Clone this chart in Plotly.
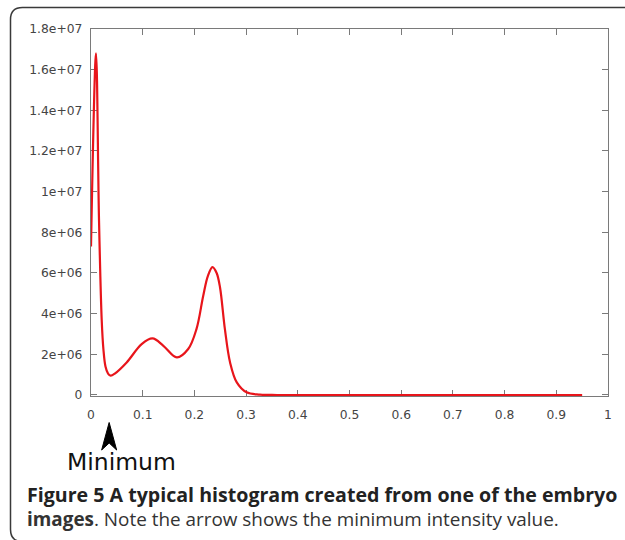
import plotly.graph_objects as go

# ---- data ----
intensity = [0.0, 0.0097, 0.0155, 0.0207, 0.024, 0.028, 0.033, 0.038, 0.046,
             0.069, 0.098, 0.119, 0.140, 0.166, 0.188, 0.204, 0.217, 0.226, 0.235,
             0.243, 0.2495, 0.259, 0.269, 0.282, 0.301, 0.327, 0.360, 0.420, 0.500,
             0.600, 0.700, 0.800, 0.900, 0.950]
counts = [7.3e6, 16.8e6, 8.6e6, 3.7e6, 2.25e6, 1.4e6, 1.05e6, 0.95e6, 1.05e6,
          1.6e6, 2.5e6, 2.78e6, 2.42e6, 1.85e6, 2.26e6, 3.24e6, 4.87e6, 5.85e6, 6.29e6,
          6.0e6, 5.3e6, 3.24e6, 1.6e6, 0.62e6, 0.13e6, 0.02e6, 0.0, 0.0, 0.0,
          0.0, 0.0, 0.0, 0.0, 0.0]
minimum_x = 0.038

x_ticks = [0, 0.1, 0.2, 0.3, 0.4, 0.5, 0.6, 0.7, 0.8, 0.9, 1]
x_tick_labels = ["0", "0.1", "0.2", "0.3", "0.4", "0.5", "0.6", "0.7", "0.8", "0.9", "1"]
y_ticks = [0, 2e6, 4e6, 6e6, 8e6, 1e7, 1.2e7, 1.4e7, 1.6e7, 1.8e7]
y_tick_labels = ["0", "2e+06", "4e+06", "6e+06", "8e+06", "1e+07",
                 "1.2e+07", "1.4e+07", "1.6e+07", "1.8e+07"]

caption_line1 = "<b>Figure 5 A typical histogram created from one of the embryo</b>"
caption_line2 = "<b>images</b>. Note the arrow shows the minimum intensity value."

# ---- layout geometry (pixels) ----
W, H = 625, 540
L, R, T, B = 91, 608, 29, 396


def px(xp):
    return (xp - L) / (R - L)


def py(yp):
    return (B - yp) / (B - T)


fig = go.Figure()
fig.add_trace(go.Scatter(
    x=intensity, y=counts, mode="lines",
    line=dict(color="#e8151b", width=2.2, shape="spline", smoothing=1.0),
    hoverinfo="skip", showlegend=False,
))

axis_common = dict(
    showgrid=False, zeroline=False, showline=True, linecolor="#7a7a7a", linewidth=1.3,
    mirror="ticks", ticks="inside", ticklen=6, tickcolor="#7a7a7a", tickwidth=1.3,
    tickfont=dict(family="DejaVu Sans", size=12.3, color="#444444"),
    layer="below traces",
)

fig.update_xaxes(range=[0, 1], tickvals=x_ticks, ticktext=x_tick_labels,
                 ticklabelstandoff=7, **axis_common)
fig.update_yaxes(range=[-5e4, 1.8e7], tickvals=y_ticks, ticktext=y_tick_labels,
                 ticklabelstandoff=5, **axis_common)

# outer rounded frame
x_r, x_l = px(W + 5), px(10.5)
x_lc = px(22.5)
y_t, y_tc = py(7.5), py(19.5)
y_b, y_bc = py(541.5), py(529.5)
frame = (f"M {x_r},{y_t} L {x_lc},{y_t} Q {x_l},{y_t} {x_l},{y_tc} "
         f"L {x_l},{y_bc} Q {x_l},{y_b} {x_lc},{y_b} L {x_r},{y_b}")

# arrow head pointing at the minimum
ax_c = minimum_x - 1.5 / (R - L)
half_w = 7.5 / (R - L)
arrow = (f"M {ax_c},{py(422.5)} L {ax_c + half_w},{py(450)} "
         f"L {ax_c},{py(443)} L {ax_c - half_w},{py(450)} Z")

fig.update_layout(
    width=W, height=H,
    margin=dict(l=L, r=W - R, t=T, b=H - B),
    paper_bgcolor="white", plot_bgcolor="white",
    shapes=[
        dict(type="path", path=frame, xref="paper", yref="paper",
             line=dict(color="#3a3a3a", width=1.5), layer="above"),
        dict(type="path", path=arrow, xref="x", yref="paper",
             line=dict(color="black", width=1), fillcolor="black", layer="above"),
    ],
    annotations=[
        dict(text="Minimum", x=px(121.5), y=py(462), xref="paper", yref="paper",
             showarrow=False, xanchor="center", yanchor="middle",
             font=dict(family="DejaVu Sans", size=23.5, color="#111111")),
        dict(text=caption_line1, x=px(25), y=py(494), xref="paper", yref="paper",
             showarrow=False, xanchor="left", yanchor="middle",
             font=dict(family="Open Sans", size=19.6, color="#222222")),
        dict(text=caption_line2, x=px(25), y=py(519), xref="paper", yref="paper",
             showarrow=False, xanchor="left", yanchor="middle",
             font=dict(family="Open Sans", size=18.9, color="#333333")),
    ],
)

fig.write_html("out.html", config={"displayModeBar": False},
               post_script="document.body.style.margin='0px';")
